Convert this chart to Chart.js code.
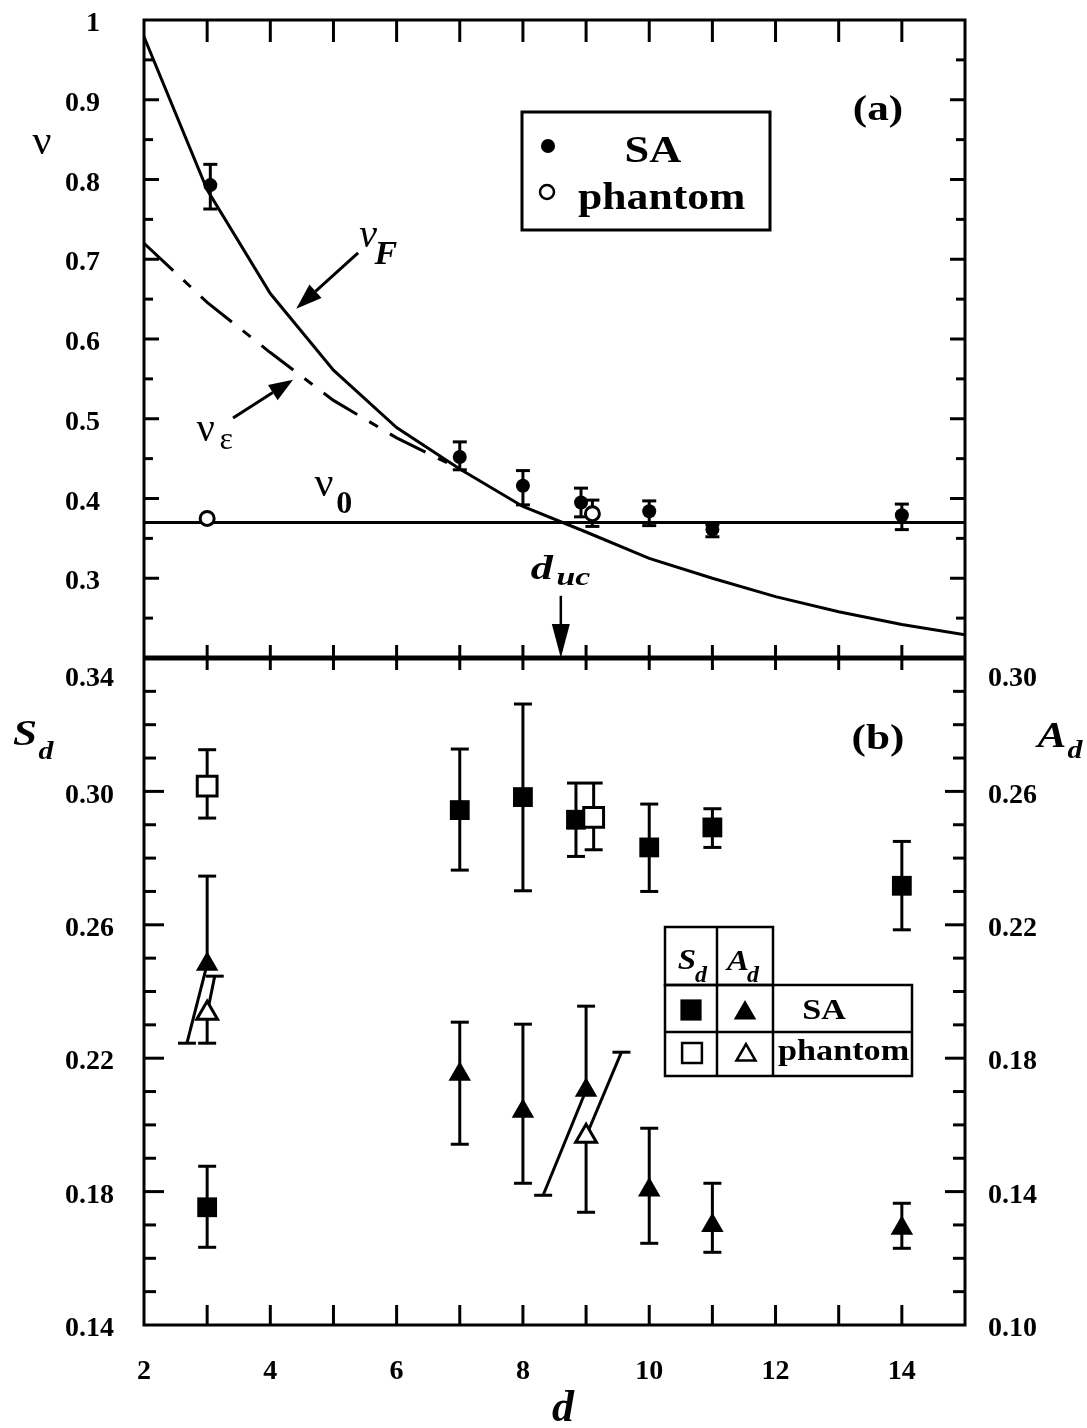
<!DOCTYPE html>
<html>
<head>
<meta charset="utf-8">
<title>nu, S_d and A_d versus d</title>
<script src="https://cdn.jsdelivr.net/npm/chart.js@4.4.1/dist/chart.umd.min.js"></script>
<style>
  html, body { margin: 0; padding: 0; background: #fff; }
  #page { position: relative; width: 1087px; height: 1428px; overflow: hidden; background: #fff; }
  #nu-chart { position: absolute; left: 0; top: 0; }
  #sd-chart { position: absolute; left: 0; top: 600px; }
</style>
</head>
<body>
<div id="page">
  <canvas id="nu-chart" width="1087" height="700"></canvas>
  <canvas id="sd-chart" width="1087" height="828"></canvas>
</div>
<script>
// ---- panel (a): exponent nu vs d ----
const dGrid = [2, 3, 4, 5, 6, 7, 8, 9, 10, 11, 12, 13, 14, 15];
const nuF = [0.979, 0.787, 0.657, 0.561, 0.489, 0.437, 0.390, 0.358, 0.325, 0.300, 0.277, 0.258, 0.242, 0.229];
const dEps = [2, 3, 4, 5, 6, 7];
const nuEps = [0.720, 0.646, 0.583, 0.523, 0.476, 0.437];
const nu0 = 0.37;
const dUc = 8.6;

const dNuSA = [3.05, 7, 8, 8.92, 10, 11, 14];
const nuSA = [0.793, 0.452, 0.416, 0.395, 0.384, 0.361, 0.379];
const nuSAHi = [0.819, 0.471, 0.435, 0.413, 0.397, 0.367, 0.393];
const nuSALo = [0.763, 0.436, 0.392, 0.377, 0.366, 0.352, 0.361];
const dNuPh = [3, 9.1];
const nuPh = [0.375, 0.381];
const nuPhHi = [null, 0.398];
const nuPhLo = [null, 0.365];
const nuTicks = [0.3, 0.4, 0.5, 0.6, 0.7, 0.8, 0.9, 1];

// ---- panel (b): S_d on the left axis, A_d on the right axis ----
const dSdSA = [3, 7, 8, 8.84, 10, 11, 14];
const sdSA = [0.1753, 0.2944, 0.2983, 0.2915, 0.2832, 0.2892, 0.2717];
const sdSAHi = [0.1876, 0.3127, 0.3262, 0.3025, 0.2962, 0.2948, 0.2850];
const sdSALo = [0.1633, 0.2764, 0.2702, 0.2805, 0.2700, 0.2832, 0.2585];
const dSdPh = [3, 9.12];
const sdPh = [0.3016, 0.2922];
const sdPhHi = [0.3125, 0.3025];
const sdPhLo = [0.2920, 0.2825];

const dAdSA = [3, 7, 8, 9, 10, 11, 14];
const adSA = [0.2082, 0.1752, 0.1641, 0.1704, 0.1405, 0.1298, 0.1290];
const adSAHi = [0.2346, 0.1908, 0.1902, 0.1956, 0.1590, 0.1425, 0.1365];
const adSALo = [0.1845, 0.1542, 0.1425, 0.1389, 0.1245, 0.1218, 0.1230];
const adSALoAt = [2.68, null, null, 8.32, null, null, null]; // these lower bars are drawn slanted
const dAdPh = [3, 9];
const adPh = [0.1935, 0.1566];
const adPhHi = [0.2046, 0.1818];
const adPhHiAt = [3.12, 9.56];
const adPhLo = [0.1845, 0.1338];

const dTicks = [2, 4, 6, 8, 10, 12, 14];
const sdTicks = [0.14, 0.18, 0.22, 0.26, 0.30, 0.34];
const adTicks = [0.10, 0.14, 0.18, 0.22, 0.26, 0.30];

const serif = 'Liberation Serif';
Chart.defaults.font.family = serif;
Chart.defaults.color = '#000';
Chart.defaults.animation = false;
Chart.defaults.plugins.legend.display = false;
Chart.defaults.plugins.tooltip.enabled = false;

const tickFont = { family: serif, size: 28, weight: 'bold' };
const pts = (xs, ys) => xs.map((x, i) => ({ x, y: ys[i] }));

function seg(ctx, x0, y0, x1, y1) {
    ctx.beginPath();
    ctx.moveTo(x0, y0);
    ctx.lineTo(x1, y1);
    ctx.stroke();
}

function arrow(ctx, x0, y0, x1, y1, head, half) {
    const ang = Math.atan2(y1 - y0, x1 - x0);
    const bx = x1 - head * Math.cos(ang);
    const by = y1 - head * Math.sin(ang);
    seg(ctx, x0, y0, bx, by);
    ctx.beginPath();
    ctx.moveTo(x1, y1);
    ctx.lineTo(bx + half * Math.sin(ang), by - half * Math.cos(ang));
    ctx.lineTo(bx - half * Math.sin(ang), by + half * Math.cos(ang));
    ctx.closePath();
    ctx.fill();
}

// text with an optional horizontal stretch
function text(ctx, str, x, y, font, sx = 1, align = 'center') {
    ctx.save();
    ctx.translate(x, y);
    ctx.scale(sx, 1);
    ctx.font = font;
    ctx.textAlign = align;
    ctx.textBaseline = 'middle';
    ctx.fillStyle = '#000';
    ctx.fillText(str, 0, 0);
    ctx.restore();
}

function marker(ctx, style, radius, x, y, open) {
    ctx.save();
    ctx.fillStyle = open ? '#fff' : '#000';
    ctx.strokeStyle = '#000';
    ctx.lineWidth = 2.5;
    Chart.helpers.drawPoint(ctx, { pointStyle: style, radius, rotation: 0, borderWidth: open ? 2.5 : 0 }, x, y);
    ctx.restore();
}

// fixed axis sizes; the end-label padding is dropped so the plot box stays put
const fixWidth = w => s => { s.width = w; s.paddingTop = 0; s.paddingBottom = 0; };
const fixHeight = h => s => { s.height = h; s.paddingLeft = 0; s.paddingRight = 0; };

// panel (b) labels: the top one is pushed below the shared baseline
const lowerTop = top => v => (Math.abs(v - top) < 1e-9 ? ['', v.toFixed(2)] : v.toFixed(2));

// vertical (or slanted) error bars with flat caps
const errorBars = {
    id: 'errorBars',
    beforeDatasetsDraw(chart) {
        const ctx = chart.ctx;
        chart.data.datasets.forEach((ds, i) => {
            if (!ds.errHi) return;
            const meta = chart.getDatasetMeta(i);
            const xs = chart.scales[meta.xAxisID];
            const ys = chart.scales[meta.yAxisID];
            ctx.save();
            ctx.strokeStyle = '#000';
            ctx.lineWidth = 3;
            ds.data.forEach((p, j) => {
                const ends = [
                    [ds.errHi[j], ds.errHiAt ? ds.errHiAt[j] : null],
                    [ds.errLo[j], ds.errLoAt ? ds.errLoAt[j] : null]
                ];
                ends.forEach(([v, at]) => {
                    if (v == null) return;
                    const x0 = xs.getPixelForValue(p.x);
                    const y0 = ys.getPixelForValue(p.y);
                    const x1 = xs.getPixelForValue(at == null ? p.x : at);
                    const y1 = ys.getPixelForValue(v);
                    seg(ctx, x0, y0, x1, y1);
                    seg(ctx, x1 - ds.capHalf, y1, x1 + ds.capHalf, y1);
                });
            });
            ctx.restore();
        });
    }
};

// frame, inward ticks, labels and legend of panel (a)
const panelA = {
    id: 'panelA',
    afterDraw(chart) {
        const { ctx, chartArea: { left, right, top, bottom }, scales: { x, y } } = chart;
        const P = (d, v) => [x.getPixelForValue(d), y.getPixelForValue(v)];
        ctx.save();
        ctx.strokeStyle = '#000';
        ctx.fillStyle = '#000';
        ctx.lineWidth = 3;
        ctx.beginPath();
        ctx.moveTo(left, bottom);
        ctx.lineTo(left, top);
        ctx.lineTo(right, top);
        ctx.lineTo(right, bottom);
        ctx.stroke();
        ctx.lineWidth = 5;
        seg(ctx, left - 1, bottom, right + 1, bottom);

        ctx.lineWidth = 3;
        for (let d = 3; d <= 14; d++) {
            const px = x.getPixelForValue(d);
            seg(ctx, px, top, px, top + 22);
            seg(ctx, px, bottom - 13, px, bottom + 12);
        }
        for (let k = 5; k <= 19; k++) {
            const py = y.getPixelForValue(k * 0.05);
            const len = k % 2 === 0 ? 15 : 9;
            seg(ctx, left, py, left + len, py);
            seg(ctx, right, py, right - len, py);
        }

        // curve labels and arrows
        ctx.lineWidth = 3;
        arrow(ctx, ...P(5.39, 0.708), ...P(4.41, 0.638), 26, 9);
        arrow(ctx, ...P(3.41, 0.501), ...P(4.36, 0.549), 24, 9);
        ctx.lineWidth = 2.5;
        arrow(ctx, ...P(dUc, 0.278), ...P(dUc, 0.2), 34, 9);

        text(ctx, 'ν', ...P(5.55, 0.728), 'italic 40px "Liberation Serif"');
        text(ctx, 'F', ...P(5.83, 0.705), 'italic bold 34px "Liberation Serif"');
        text(ctx, 'ν', ...P(2.98, 0.485), '40px "Liberation Serif"');
        text(ctx, 'ε', ...P(3.30, 0.473), '32px "Liberation Serif"');
        text(ctx, 'ν', ...P(4.85, 0.417), '42px "Liberation Serif"');
        text(ctx, '0', ...P(5.17, 0.392), 'bold 32px "Liberation Serif"');
        text(ctx, 'd', ...P(8.30, 0.310), 'italic bold 34px "Liberation Serif"', 1.3);
        text(ctx, 'uc', ...P(8.80, 0.300), 'italic bold 26px "Liberation Serif"', 1.3);

        // axis title and panel letter
        text(ctx, 'ν', 42, 143, '42px "Liberation Serif"');
        text(ctx, '(a)', 878, 111, 'bold 36px "Liberation Serif"', 1.2);

        // legend box
        ctx.lineWidth = 3;
        ctx.strokeRect(522, 112, 248, 118);
        marker(ctx, 'circle', 7, 548, 146, false);
        text(ctx, 'SA', 653, 152, 'bold 37px "Liberation Serif"', 1.2);
        marker(ctx, 'circle', 7, 547, 192, true);
        text(ctx, 'phantom', 578, 199, 'bold 37px "Liberation Serif"', 1.18, 'left');
        ctx.restore();
    }
};

// frame, inward ticks, titles and table legend of panel (b)
const panelB = {
    id: 'panelB',
    afterDraw(chart) {
        const { ctx, chartArea: { left, right, top, bottom }, scales: { x, s, a } } = chart;
        ctx.save();
        ctx.strokeStyle = '#000';
        ctx.fillStyle = '#000';
        ctx.lineWidth = 3;
        ctx.beginPath();
        ctx.moveTo(left, top);
        ctx.lineTo(left, bottom);
        ctx.lineTo(right, bottom);
        ctx.lineTo(right, top);
        ctx.stroke();

        for (let d = 3; d <= 14; d++) {
            const px = x.getPixelForValue(d);
            seg(ctx, px, bottom, px, bottom - 20);
        }
        for (let k = 15; k <= 33; k++) {
            const py = s.getPixelForValue(k / 100);
            seg(ctx, left, py, left + (k % 4 === 2 ? 20 : 12), py);
        }
        for (let k = 11; k <= 29; k++) {
            const py = a.getPixelForValue(k / 100);
            seg(ctx, right, py, right - (k % 4 === 2 ? 20 : 12), py);
        }

        // axis titles and panel letter
        text(ctx, 'S', 25, 136, 'italic bold 36px "Liberation Serif"', 1.2);
        text(ctx, 'd', 46, 152, 'italic bold 26px "Liberation Serif"', 1.15);
        text(ctx, 'A', 1052, 138, 'italic bold 36px "Liberation Serif"', 1.2);
        text(ctx, 'd', 1075, 151, 'italic bold 26px "Liberation Serif"', 1.15);
        text(ctx, '(b)', 878, 140, 'bold 36px "Liberation Serif"', 1.2);
        text(ctx, 'd', 563, 810, 'italic bold 44px "Liberation Serif"');

        // table legend
        const cx = [665, 717, 773, 912];
        const ry = [327, 385, 432, 476];
        ctx.lineWidth = 2.5;
        ctx.strokeRect(cx[0], ry[0], cx[2] - cx[0], ry[1] - ry[0]);
        seg(ctx, cx[1], ry[0], cx[1], ry[3]);
        ctx.strokeRect(cx[0], ry[1], cx[3] - cx[0], ry[3] - ry[1]);
        seg(ctx, cx[0], ry[2], cx[3], ry[2]);
        seg(ctx, cx[2], ry[1], cx[2], ry[3]);

        text(ctx, 'S', 687, 361, 'italic bold 30px "Liberation Serif"', 1.1);
        text(ctx, 'd', 701, 376, 'italic bold 24px "Liberation Serif"');
        text(ctx, 'A', 738, 362, 'italic bold 30px "Liberation Serif"', 1.1);
        text(ctx, 'd', 753, 376, 'italic bold 24px "Liberation Serif"');

        marker(ctx, 'rect', 15, 691, 410, false);
        marker(ctx, 'triangle', 13, 745, 413, false);
        text(ctx, 'SA', 824, 411, 'bold 30px "Liberation Serif"', 1.14);
        marker(ctx, 'rect', 14, 692, 453, true);
        marker(ctx, 'triangle', 11, 746, 455, true);
        text(ctx, 'phantom', 778, 452, 'bold 30px "Liberation Serif"', 1.14, 'left');
        ctx.restore();
    }
};

const noGrid = { display: false, drawTicks: false };
const noBorder = { display: false };

// Panel (a)
new Chart(document.getElementById('nu-chart'), {
    type: 'scatter',
    data: {
        datasets: [
            {
                label: 'phantom', data: pts(dNuPh, nuPh), pointStyle: 'circle', pointRadius: 7,
                backgroundColor: '#fff', borderColor: '#000', borderWidth: 3,
                errHi: nuPhHi, errLo: nuPhLo, capHalf: 7
            },
            {
                label: 'SA', data: pts(dNuSA, nuSA), pointStyle: 'circle', pointRadius: 7,
                backgroundColor: '#000', borderColor: '#000', borderWidth: 0,
                errHi: nuSAHi, errLo: nuSALo, capHalf: 7
            },
            {
                label: 'nu_F', data: pts(dGrid, nuF), showLine: true, pointRadius: 0,
                borderColor: '#000', borderWidth: 3
            },
            {
                label: 'nu_eps', data: pts(dEps, nuEps), showLine: true, pointRadius: 0,
                borderColor: '#000', borderWidth: 3, borderDash: [40, 14, 10, 14]
            },
            {
                label: 'nu_0', data: pts([dGrid[0], dGrid[dGrid.length - 1]], [nu0, nu0]),
                showLine: true, pointRadius: 0, borderColor: '#000', borderWidth: 3
            }
        ]
    },
    options: {
        responsive: false,
        layout: { padding: { left: 0, top: 20, right: 122, bottom: 42 } },
        scales: {
            x: { type: 'linear', min: 2, max: 15, display: false },
            y: {
                type: 'linear', position: 'left', min: 0.2, max: 1,
                afterFit: fixWidth(144),
                afterBuildTicks: s => { s.ticks = nuTicks.map(v => ({ value: v })); },
                grid: noGrid, border: noBorder,
                ticks: {
                    font: tickFont, color: '#000', padding: 44, labelOffset: 4, autoSkip: false,
                    callback: v => (v === 1 ? '1' : v.toFixed(1))
                }
            }
        }
    },
    plugins: [errorBars, panelA]
});

// Panel (b)
new Chart(document.getElementById('sd-chart'), {
    type: 'scatter',
    data: {
        datasets: [
            {
                label: 'S_d phantom', data: pts(dSdPh, sdPh), yAxisID: 's', pointStyle: 'rect', pointRadius: 14,
                backgroundColor: '#fff', borderColor: '#000', borderWidth: 3,
                errHi: sdPhHi, errLo: sdPhLo, capHalf: 9
            },
            {
                label: 'S_d SA', data: pts(dSdSA, sdSA), yAxisID: 's', pointStyle: 'rect', pointRadius: 14,
                backgroundColor: '#000', borderColor: '#000', borderWidth: 0,
                errHi: sdSAHi, errLo: sdSALo, capHalf: 9
            },
            {
                label: 'A_d SA', data: pts(dAdSA, adSA), yAxisID: 'a', pointStyle: 'triangle', pointRadius: 13,
                backgroundColor: '#000', borderColor: '#000', borderWidth: 0,
                errHi: adSAHi, errLo: adSALo, errLoAt: adSALoAt, capHalf: 9
            },
            {
                label: 'A_d phantom', data: pts(dAdPh, adPh), yAxisID: 'a', pointStyle: 'triangle', pointRadius: 12,
                backgroundColor: '#fff', borderColor: '#000', borderWidth: 3,
                errHi: adPhHi, errHiAt: adPhHiAt, errLo: adPhLo, capHalf: 9
            }
        ]
    },
    options: {
        responsive: false,
        layout: { padding: { left: 0, top: 58, right: 0, bottom: 0 } },
        scales: {
            x: {
                type: 'linear', position: 'bottom', min: 2, max: 15,
                afterFit: fixHeight(103),
                afterBuildTicks: s => { s.ticks = dTicks.map(v => ({ value: v })); },
                grid: noGrid, border: noBorder,
                ticks: { font: tickFont, color: '#000', padding: 30, maxRotation: 0, autoSkip: false }
            },
            s: {
                type: 'linear', position: 'left', min: 0.14, max: 0.34,
                afterFit: fixWidth(144),
                afterBuildTicks: s => { s.ticks = sdTicks.map(v => ({ value: v })); },
                grid: noGrid, border: noBorder,
                ticks: {
                    font: tickFont, color: '#000', padding: 30, labelOffset: 4, autoSkip: false,
                    lineHeight: 0.9, callback: lowerTop(sdTicks[sdTicks.length - 1])
                }
            },
            a: {
                type: 'linear', position: 'right', min: 0.10, max: 0.30,
                afterFit: fixWidth(122),
                afterBuildTicks: s => { s.ticks = adTicks.map(v => ({ value: v })); },
                grid: noGrid, border: noBorder,
                ticks: {
                    font: tickFont, color: '#000', padding: 23, labelOffset: 4, autoSkip: false,
                    lineHeight: 0.9, callback: lowerTop(adTicks[adTicks.length - 1])
                }
            }
        }
    },
    plugins: [errorBars, panelB]
});
</script>
</body>
</html>
